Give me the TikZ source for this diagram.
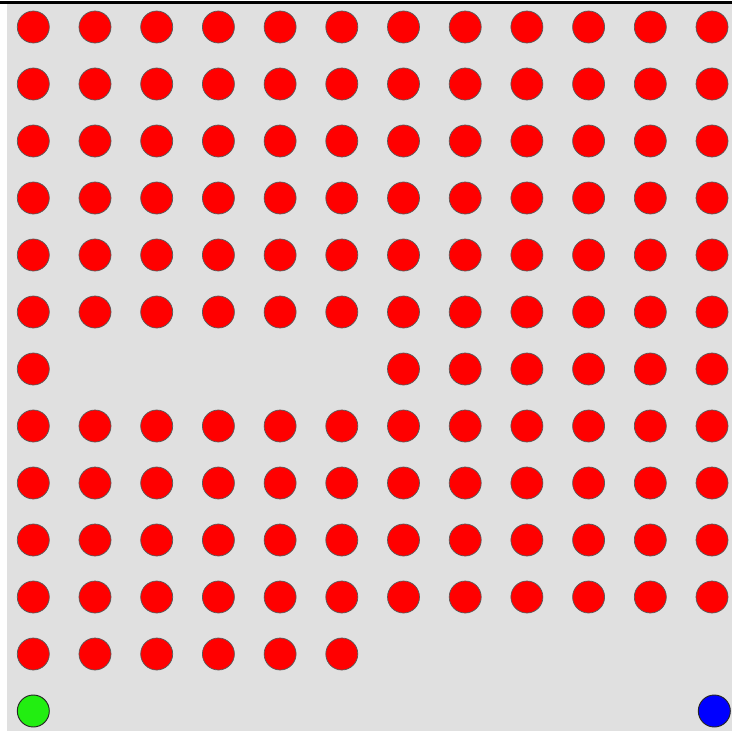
\documentclass[tikz,border=0pt]{standalone}
\usepackage{tikz}
\usetikzlibrary{positioning}
\definecolor{boardgray}{RGB}{224,224,224}
\definecolor{startgreen}{RGB}{34,238,17}
\tikzset{dot/.style={circle,draw=black!65,fill=red,minimum size=0.96cm,inner sep=0pt,line width=0.6pt}}

\begin{document}
\begin{tikzpicture}[x=0.03cm,y=-0.03cm]
\useasboundingbox (0,0) rectangle (732,731);
\fill[white] (0,0) rectangle (732,731);
\fill[boardgray] (7,4) rectangle (732,731);
\draw[line width=0.09cm] (0,2.5)--(732,2.5);
% red grid, two gaps
\foreach \r in {0,...,11}{\foreach \c in {0,...,11}{
  \pgfmathsetmacro{\gap}{int(and(\r==6,and(\c>0,\c<6))+and(\r==11,\c>5))}
  \ifnum\gap=0
   \node[dot] (d-\r-\c) at ({33.3+61.7*\c},{27+57*\r}){};
  \fi}}
\node[dot,fill=startgreen,draw=black!85,line width=0.8pt] (start) at (33.3,711){};
\node[dot,fill=blue,draw=black!85,line width=0.8pt] (goal) at (714.3,711){};
\end{tikzpicture}
\end{document}
